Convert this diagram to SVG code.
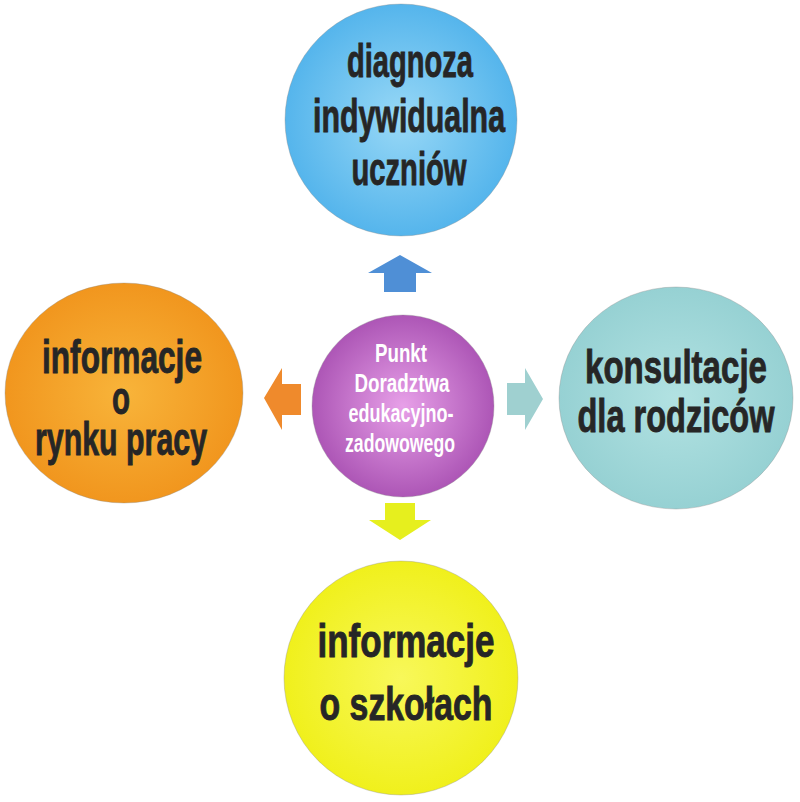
<svg xmlns="http://www.w3.org/2000/svg" width="800" height="802" viewBox="0 0 800 802">
  <defs>
    <radialGradient id="gBlue" cx="50%" cy="50%" r="50%">
      <stop offset="0" stop-color="#98d8f6"/>
      <stop offset="1" stop-color="#55b5ec"/>
    </radialGradient>
    <radialGradient id="gOrange" cx="50%" cy="50%" r="50%">
      <stop offset="0" stop-color="#f8b43a"/>
      <stop offset="1" stop-color="#f1961e"/>
    </radialGradient>
    <radialGradient id="gTeal" cx="50%" cy="50%" r="50%">
      <stop offset="0" stop-color="#b2e2e2"/>
      <stop offset="1" stop-color="#96d1d3"/>
    </radialGradient>
    <radialGradient id="gYellow" cx="50%" cy="50%" r="50%">
      <stop offset="0" stop-color="#f8f85a"/>
      <stop offset="1" stop-color="#f0f01c"/>
    </radialGradient>
    <radialGradient id="gPurple" cx="50%" cy="50%" r="50%">
      <stop offset="0" stop-color="#e7a0e8"/>
      <stop offset="1" stop-color="#ad56b6"/>
    </radialGradient>
  </defs>
  <style>
    .lbl { font-family: "Liberation Sans", Arial, sans-serif; font-weight: bold; font-size: 46px; fill: #262626; stroke: #262626; stroke-width: 0.9; }
    .ctr { font-family: "Liberation Sans", Arial, sans-serif; font-weight: bold; font-size: 26px; fill: #ffffff; }
    .edge { stroke: #8a8a8a; stroke-width: 1; stroke-opacity: 0.35; }
  </style>
  <rect width="800" height="802" fill="#ffffff"/>

  <g id="connectors">
    <polygon id="arrow-up" points="400,255 432,273 416,273 416,292 384,292 384,273 368,273" fill="#4f8fd6"/>
    <polygon id="arrow-left" points="264,398 282,368 282,384 301,384 301,415 282,415 282,430" fill="#ef8a2c"/>
    <polygon id="arrow-right" points="543,399 525,368 525,383 507,383 507,415 525,415 525,430" fill="#9fd0d0"/>
    <polygon id="arrow-down" points="400,540 431,520 415,520 415,503 385,503 385,520 369,520" fill="#e6ef1e"/>
  </g>

  <g id="node-top">
    <circle cx="401" cy="120" r="116" fill="url(#gBlue)" class="edge"/>
    <text class="lbl" x="410" y="77" text-anchor="middle" textLength="126" lengthAdjust="spacingAndGlyphs">diagnoza</text>
    <text class="lbl" x="409" y="132" text-anchor="middle" textLength="192" lengthAdjust="spacingAndGlyphs">indywidualna</text>
    <text class="lbl" x="409" y="185" text-anchor="middle" textLength="115" lengthAdjust="spacingAndGlyphs">uczniów</text>
  </g>

  <g id="node-left">
    <ellipse cx="124" cy="393" rx="119" ry="110" fill="url(#gOrange)" class="edge"/>
    <text class="lbl" x="122" y="373" text-anchor="middle" textLength="160" lengthAdjust="spacingAndGlyphs">informacje</text>
    <text class="lbl" x="121" y="414" text-anchor="middle" textLength="18" lengthAdjust="spacingAndGlyphs">o</text>
    <text class="lbl" x="121" y="455" text-anchor="middle" textLength="172" lengthAdjust="spacingAndGlyphs">rynku pracy</text>
  </g>

  <g id="node-right">
    <ellipse cx="676" cy="398" rx="117" ry="111" fill="url(#gTeal)" class="edge"/>
    <text class="lbl" x="676" y="383" text-anchor="middle" textLength="182" lengthAdjust="spacingAndGlyphs">konsultacje</text>
    <text class="lbl" x="676" y="432" text-anchor="middle" textLength="197" lengthAdjust="spacingAndGlyphs">dla rodziców</text>
  </g>

  <g id="node-bottom">
    <circle cx="401" cy="678" r="117" fill="url(#gYellow)" class="edge"/>
    <text class="lbl" x="406" y="657" text-anchor="middle" textLength="177" lengthAdjust="spacingAndGlyphs">informacje</text>
    <text class="lbl" x="406" y="720" text-anchor="middle" textLength="173" lengthAdjust="spacingAndGlyphs">o szkołach</text>
  </g>

  <g id="node-center">
    <circle cx="403" cy="406" r="91" fill="url(#gPurple)" class="edge"/>
    <text class="ctr" x="401" y="362" text-anchor="middle" textLength="52" lengthAdjust="spacingAndGlyphs">Punkt</text>
    <text class="ctr" x="402" y="392" text-anchor="middle" textLength="95" lengthAdjust="spacingAndGlyphs">Doradztwa</text>
    <text class="ctr" x="401" y="422" text-anchor="middle" textLength="105" lengthAdjust="spacingAndGlyphs">edukacyjno-</text>
    <text class="ctr" x="400" y="452" text-anchor="middle" textLength="110" lengthAdjust="spacingAndGlyphs">zadowowego</text>
  </g>
</svg>
